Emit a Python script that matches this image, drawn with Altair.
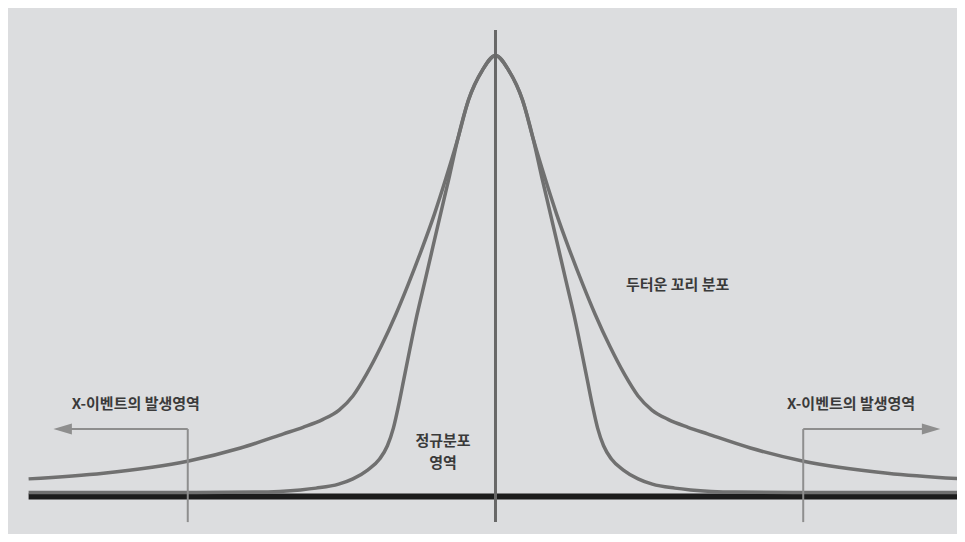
import altair as alt
import pandas as pd

# ---- data (x: offset from centre, y: height, peak = 1) ----
fat_half_x = [0, 0.283, 0.587, 0.822, 1.076, 1.326, 1.62, 1.902, 2.163, 2.489, 2.8, 3.1, 3.4, 3.75, 4.185, 4.609, 5.543, 6.696, 8.522, 10.15]
fat_half_y = [1.0, 0.967, 0.899, 0.81, 0.722, 0.641, 0.556, 0.480, 0.414, 0.340, 0.278, 0.228, 0.196, 0.175, 0.157, 0.142, 0.110, 0.080, 0.053, 0.040]

norm_half_x = [0, 0.283, 0.587, 0.822, 1.011, 1.185, 1.359, 1.53, 1.71, 1.86, 2.0, 2.11, 2.22, 2.35, 2.52, 2.78, 3.1, 3.41, 3.9, 4.24, 5.22, 6.5, 10.15]
norm_half_y = [1.0, 0.967, 0.899, 0.81, 0.722, 0.645, 0.567, 0.490, 0.41, 0.335, 0.262, 0.205, 0.155, 0.115, 0.085, 0.060, 0.040, 0.028, 0.019, 0.015, 0.010, 0.009, 0.009]

event_x = [-6.69, 6.69]
event_top = 0.153
arrow_head_x = [-9.41, 9.47]
line_bottom = -0.058
centre_top = 1.058
base_span = [-10.15, 10.15]

label_text = ["X-이벤트의  발생영역", "X-이벤트의  발생영역", "두터운  꼬리  분포", "정규분포", "영역"]
label_x = [-7.82, 7.73, 3.96, -1.14, -1.14]
label_y = [0.21, 0.21, 0.48, 0.126, 0.076]


def mirror(hx, hy):
    xs = [-v for v in reversed(hx[1:])] + list(hx)
    ys = list(reversed(hy[1:])) + list(hy)
    return pd.DataFrame({"x": xs, "y": ys})


fat_df = mirror(fat_half_x, fat_half_y)
norm_df = mirror(norm_half_x, norm_half_y)

X = alt.Scale(domain=[-10.598, 10.033], nice=False, zero=False)
Y = alt.Scale(domain=[-0.085, 1.1077], nice=False, zero=False)
xq = lambda f: alt.X(f, type="quantitative", scale=X, axis=None)
yq = lambda f: alt.Y(f, type="quantitative", scale=Y, axis=None)

GRAY_CURVE = "#707070"
GRAY_EVENT = "#8e8e8e"

base = alt.Chart(pd.DataFrame({"x": [base_span[0]], "x2": [base_span[1]], "y": [0.0]})).mark_rule(
    color="#1c1c1c", strokeWidth=6, clip=True
).encode(x=xq("x"), x2="x2", y=yq("y"))

norm = alt.Chart(norm_df).mark_line(
    color=GRAY_CURVE, strokeWidth=3.5, interpolate="monotone", clip=True
).encode(x=xq("x"), y=yq("y"), order="x:Q")

fat = alt.Chart(fat_df).mark_line(
    color=GRAY_CURVE, strokeWidth=3.5, interpolate="monotone", clip=True
).encode(x=xq("x"), y=yq("y"), order="x:Q")

centre = alt.Chart(pd.DataFrame({"x": [0.0], "y": [line_bottom], "y2": [centre_top]})).mark_rule(
    color="#686868", strokeWidth=3
).encode(x=xq("x"), y=yq("y"), y2="y2")

ev_df = pd.DataFrame({"x": event_x, "y": [line_bottom] * 2, "y2": [event_top] * 2})
ev_v = alt.Chart(ev_df).mark_rule(color=GRAY_EVENT, strokeWidth=2).encode(
    x=xq("x"), y=yq("y"), y2="y2"
)

arr_df = pd.DataFrame({"x": event_x, "x2": arrow_head_x, "y": [event_top] * 2})
ev_h = alt.Chart(arr_df).mark_rule(color=GRAY_EVENT, strokeWidth=2).encode(
    x=xq("x"), x2="x2", y=yq("y")
)

head_l = alt.Chart(pd.DataFrame({"x": [arrow_head_x[0]], "y": [event_top]})).mark_point(
    shape="M-1,0L1,-0.6L1,0.6Z", filled=True, size=340, color=GRAY_EVENT, opacity=1
).encode(x=xq("x"), y=yq("y"))

head_r = alt.Chart(pd.DataFrame({"x": [arrow_head_x[1]], "y": [event_top]})).mark_point(
    shape="M1,0L-1,-0.6L-1,0.6Z", filled=True, size=340, color=GRAY_EVENT, opacity=1
).encode(x=xq("x"), y=yq("y"))

labels = alt.Chart(pd.DataFrame({"t": label_text, "x": label_x, "y": label_y})).mark_text(
    font="Noto Sans CJK KR", fontWeight="bold", fontSize=15, color="#3a3a3a",
    align="center", baseline="middle"
).encode(x=xq("x"), y=yq("y"), text="t:N")

chart = alt.layer(base, norm, fat, centre, ev_v, ev_h, head_l, head_r, labels).properties(
    width=949, height=526,
    autosize=alt.AutoSizeParams(type="fit", contains="padding"),
    padding=0,
    background="#dcdddf",
).configure_view(strokeWidth=0)

chart.save("out.html", embed_options={"renderer": "svg", "actions": False})
